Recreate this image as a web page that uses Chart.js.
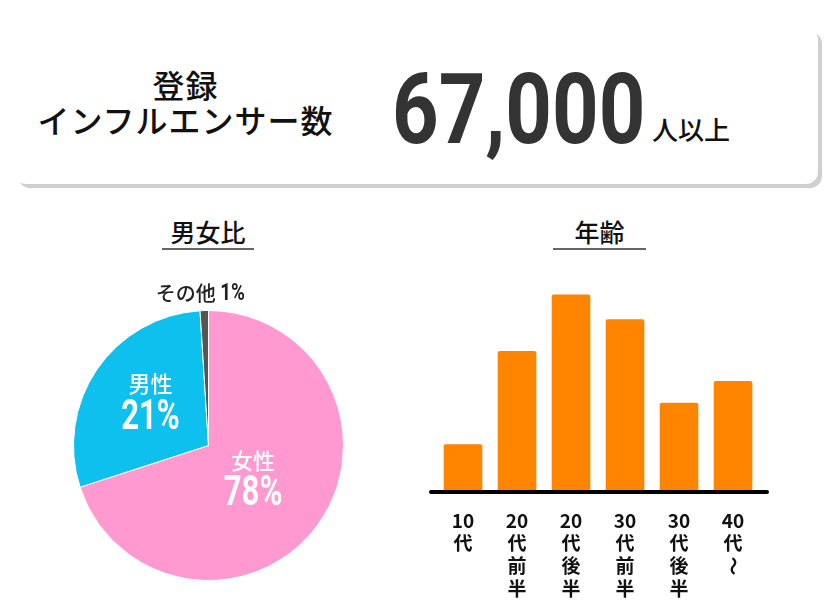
<!DOCTYPE html>
<html lang="ja">
<head>
<meta charset="utf-8">
<script src="https://cdn.jsdelivr.net/npm/chart.js@4.4.0/dist/chart.umd.min.js"></script>
<style>
  html, body { margin: 0; padding: 0; background: #fff; }
  body { width: 834px; height: 610px; position: relative; overflow: hidden;
         font-family: "Noto Sans CJK JP", sans-serif; color: #111; }
  .card { position: absolute; left: 14px; top: 28px; width: 804px; height: 156px;
          background: #fff; border-radius: 12px; box-shadow: 4px 4px 0 #cfcfcf; }
  .lead { position: absolute; left: 20px; top: 67px; width: 331px; text-align: center;
          font-size: 32px; font-weight: 500; line-height: 35px; letter-spacing: 1px; }
  .big { position: absolute; left: 392px; top: 61px; font-family: Roboto, sans-serif;
         font-weight: 700; font-size: 98px; line-height: 1; color: #333;
         transform: scaleX(0.83); transform-origin: left top; }
  .unit { position: absolute; left: 652px; top: 111px; font-size: 26px; font-weight: 500; line-height: 36px; }
  .head { position: absolute; top: 214px; text-align: center; font-size: 25px; font-weight: 500;
          line-height: 34px; border-bottom: 2px solid #666; }
  canvas { position: absolute; }
</style>
</head>
<body>
<div class="card"></div>
<div class="lead">登録<br>インフルエンサー数</div>
<div class="big">67,000</div>
<div class="unit">人以上</div>
<div class="head" style="left:162px;width:92px;">男女比</div>
<div class="head" style="left:553px;width:93px;">年齢</div>
<div style="position:absolute;left:40px;top:270px;width:340px;height:330px;"><canvas id="pieChart"></canvas></div>
<div style="position:absolute;left:400px;top:250px;width:400px;height:360px;"><canvas id="barChart"></canvas></div>
<script>
// 男女比: slice sizes as drawn, and the percentages printed on them
const genderLabels = ['女性', '男性', 'その他'];
const genderValues = [70, 29, 1];
const genderText = ['78%', '21%', '1%'];
const genderColors = ['#ff99d0', '#0dc0ee', '#555555'];

// 年齢 (%)
const ageLabels = [['10', '代'], ['20', '代', '前', '半'], ['20', '代', '後', '半'],
                   ['30', '代', '前', '半'], ['30', '代', '後', '半'], ['40', '代', '〜']];
const ageValues = [6.2, 18.6, 26.1, 22.8, 11.7, 14.6];

// label placement inside the pie, in units of the radius
const pieLabelPos = [
    { dx: 0.33, dy: 0.11, dy2: 0.365, color: '#fff' },
    { dx: -0.43, dy: -0.46, dy2: -0.2, color: '#fff' },
    { dx: -0.06, dy: -1.125, color: '#222' }
];

function drawPercent(ctx, text, x, y, size, sx) {
    ctx.save();
    ctx.font = '700 ' + size + 'px Roboto';
    ctx.translate(x, y);
    ctx.scale(sx, 1);
    ctx.textAlign = 'center';
    ctx.textBaseline = 'middle';
    ctx.fillText(text, 0, 0);
    ctx.restore();
}

const pieLabels = {
    id: 'pieLabels',
    afterDatasetsDraw(chart) {
        const ctx = chart.ctx;
        const meta = chart.getDatasetMeta(0);
        meta.data.forEach(function (arc, i) {
            const p = pieLabelPos[i];
            const r = arc.outerRadius;
            const cx = arc.x + p.dx * r;
            ctx.fillStyle = p.color;
            if (p.dy2 !== undefined) {
                ctx.save();
                ctx.font = '500 22px "Noto Sans CJK JP"';
                ctx.textAlign = 'center';
                ctx.textBaseline = 'middle';
                ctx.fillText(genderLabels[i], cx, arc.y + p.dy * r);
                ctx.restore();
                drawPercent(ctx, genderText[i], cx, arc.y + p.dy2 * r, 42, 0.74);
            } else {
                ctx.save();
                ctx.font = '500 20px "Noto Sans CJK JP"';
                const w1 = ctx.measureText(genderLabels[i] + ' ').width;
                ctx.font = '700 24px Roboto';
                const w2 = ctx.measureText(genderText[i]).width * 0.78;
                const left = cx - (w1 + w2) / 2;
                const y = arc.y + p.dy * r;
                ctx.font = '500 20px "Noto Sans CJK JP"';
                ctx.textAlign = 'left';
                ctx.textBaseline = 'middle';
                ctx.fillText(genderLabels[i], left, y);
                ctx.restore();
                drawPercent(ctx, genderText[i], left + w1 + w2 / 2, y, 24, 0.78);
            }
        });
    }
};

new Chart(document.getElementById('pieChart'), {
    type: 'pie',
    data: {
        labels: genderLabels,
        datasets: [{
            data: genderValues,
            backgroundColor: genderColors,
            borderColor: '#fff',
            borderWidth: 1
        }]
    },
    options: {
        responsive: true,
        maintainAspectRatio: false,
        animation: false,
        layout: { padding: { left: 33, right: 36, top: 40, bottom: 19 } },
        plugins: { legend: { display: false }, tooltip: { enabled: false } }
    },
    plugins: [pieLabels]
});

const tickFont = { family: '"Noto Sans CJK JP"', size: 19, weight: 'bold', lineHeight: 1.2 };

// axis line, plus the wave dash of vertical labels turned upright
const baseLine = {
    id: 'baseLine',
    afterDraw(chart) {
        const a = chart.chartArea;
        const ctx = chart.ctx;
        const xs = chart.scales.x;
        ctx.save();
        ctx.strokeStyle = '#000';
        ctx.lineWidth = 4;
        ctx.lineCap = 'round';
        ctx.beginPath();
        ctx.moveTo(a.left - 5, a.bottom + 1);
        ctx.lineTo(a.right + 7, a.bottom + 1);
        ctx.stroke();

        const lh = tickFont.size * tickFont.lineHeight;
        ageLabels.forEach(function (lines, i) {
            lines.forEach(function (s, j) {
                if (s !== '〜') return;
                const x = xs.getPixelForTick(i);
                const y = a.bottom + xs.options.ticks.padding + lh * (j + 0.5);
                ctx.translate(x, y);
                ctx.rotate(Math.PI / 2);
                ctx.font = '700 19px "Noto Sans CJK JP"';
                ctx.fillStyle = '#111';
                ctx.textAlign = 'center';
                ctx.textBaseline = 'middle';
                ctx.fillText(s, 0, 0);
                ctx.setTransform(1, 0, 0, 1, 0, 0);
            });
        });
        ctx.restore();
    }
};

new Chart(document.getElementById('barChart'), {
    type: 'bar',
    data: {
        labels: ageLabels,
        datasets: [{
            data: ageValues,
            backgroundColor: '#ff8400',
            borderRadius: 2,
            borderSkipped: 'bottom',
            categoryPercentage: 1,
            barPercentage: 0.715
        }]
    },
    options: {
        responsive: true,
        maintainAspectRatio: false,
        animation: false,
        layout: { padding: { left: 36, right: 40, top: 15, bottom: 0 } },
        plugins: { legend: { display: false }, tooltip: { enabled: false } },
        scales: {
            y: { display: false, min: 0, max: 30 },
            x: {
                grid: { display: false, drawTicks: false },
                border: { display: false },
                afterFit(scale) { scale.height = 119; },
                ticks: {
                    padding: 18,
                    maxRotation: 0,
                    autoSkip: false,
                    color: '#111',
                    callback: function (v, i) {
                        return ageLabels[i].map(function (s) { return s === '〜' ? '' : s; });
                    },
                    font: tickFont
                }
            }
        }
    },
    plugins: [baseLine]
});
</script>
</body>
</html>
